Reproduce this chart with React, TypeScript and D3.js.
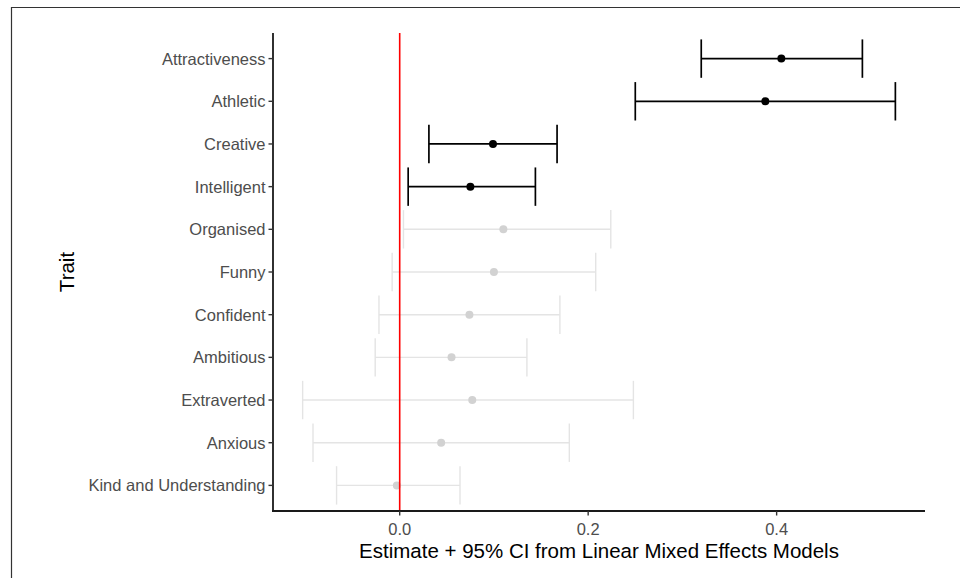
import React from "react";
import * as d3 from "d3";

const traits = [
  "Attractiveness",
  "Athletic",
  "Creative",
  "Intelligent",
  "Organised",
  "Funny",
  "Confident",
  "Ambitious",
  "Extraverted",
  "Anxious",
  "Kind and Understanding",
];
const estimates = [0.405, 0.388, 0.099, 0.075, 0.11, 0.1, 0.074, 0.055, 0.077, 0.044, -0.003];
const lowers = [0.32, 0.25, 0.031, 0.009, 0.004, -0.008, -0.022, -0.026, -0.103, -0.092, -0.067];
const uppers = [0.491, 0.526, 0.167, 0.144, 0.224, 0.208, 0.17, 0.135, 0.248, 0.18, 0.064];
const significant = [true, true, true, true, false, false, false, false, false, false, false];
const xTicks = [0.0, 0.2, 0.4];

const W = 960;
const H = 578;
const left = 273;
const right = 925;
const top = 33;
const bottom = 511;

export default function App() {
  const lo = d3.min(lowers) as number;
  const hi = d3.max(uppers) as number;
  const pad = (hi - lo) * 0.05;
  const x = d3.scaleLinear().domain([lo - pad, hi + pad]).range([left, right]);
  const n = traits.length;
  const y = d3
    .scaleLinear()
    .domain([-0.6, n - 1 + 0.6])
    .range([top, bottom]);
  const step = Math.abs(y(1) - y(0));
  const capHalf = step * 0.45;

  const rows = traits.map((t, i) => ({
    t,
    i,
    est: estimates[i],
    lo: lowers[i],
    hi: uppers[i],
    sig: significant[i],
  }));
  const grey = rows.filter((r) => !r.sig);
  const black = rows.filter((r) => r.sig);

  const drawRow = (r: any, color: string, dot: string, sw: number, rad: number) => {
    const cy = y(r.i);
    return (
      <g key={r.t}>
        <line x1={x(r.lo)} x2={x(r.hi)} y1={cy} y2={cy} stroke={color} strokeWidth={sw} />
        <line x1={x(r.lo)} x2={x(r.lo)} y1={cy - capHalf} y2={cy + capHalf} stroke={color} strokeWidth={sw} />
        <line x1={x(r.hi)} x2={x(r.hi)} y1={cy - capHalf} y2={cy + capHalf} stroke={color} strokeWidth={sw} />
        <circle cx={x(r.est)} cy={cy} r={rad} fill={dot} />
      </g>
    );
  };

  return (
    <svg
      width={W}
      height={H}
      style={{ position: "absolute", left: 0, top: 0, display: "block", background: "#fff" }}
      fontFamily="'Liberation Sans', Arial, Helvetica, sans-serif"
    >
      <rect x={0} y={0} width={W} height={H} fill="#fff" />
      {/* outer border */}
      <line x1={11} x2={W} y1={7.5} y2={7.5} stroke="#333" strokeWidth={1.2} />
      <line x1={11.5} x2={11.5} y1={7} y2={H} stroke="#333" strokeWidth={1.2} />

      {/* grey (non-significant) error bars */}
      {grey.map((r) => drawRow(r, "#e4e4e4", "#d2d2d2", 1.4, 4))}

      {/* reference line at zero */}
      <line x1={x(0)} x2={x(0)} y1={top} y2={bottom} stroke="#ff0000" strokeWidth={1.6} />

      {/* significant error bars */}
      {black.map((r) => drawRow(r, "#000", "#000", 1.7, 4))}

      {/* y axis */}
      <line x1={left} x2={left} y1={top} y2={bottom + 1} stroke="#1a1a1a" strokeWidth={1.8} />
      {traits.map((t, i) => (
        <g key={t}>
          <line x1={left - 4.5} x2={left} y1={y(i)} y2={y(i)} stroke="#333" strokeWidth={1.4} />
          <text
            x={left - 7.5}
            y={y(i)}
            textAnchor="end"
            dominantBaseline="central"
            fontSize={16.5}
            fill="#4d4d4d"
          >
            {t}
          </text>
        </g>
      ))}

      {/* x axis */}
      <line x1={left - 1} x2={right} y1={bottom} y2={bottom} stroke="#1a1a1a" strokeWidth={1.8} />
      {xTicks.map((v) => (
        <g key={v}>
          <line x1={x(v)} x2={x(v)} y1={bottom} y2={bottom + 4.5} stroke="#333" strokeWidth={1.4} />
          <text x={x(v)} y={bottom + 18} textAnchor="middle" dominantBaseline="central" fontSize={16.5} fill="#4d4d4d">
            {d3.format(".1f")(v)}
          </text>
        </g>
      ))}

      {/* axis titles */}
      <text
        x={(left + right) / 2}
        y={bottom + 39}
        textAnchor="middle"
        dominantBaseline="central"
        fontSize={20.5}
        fill="#000"
      >
        Estimate + 95% CI from Linear Mixed Effects Models
      </text>
      <text
        transform={`translate(66, ${(top + bottom) / 2}) rotate(-90)`}
        textAnchor="middle"
        dominantBaseline="central"
        fontSize={20.5}
        fill="#000"
      >
        Trait
      </text>
    </svg>
  );
}
